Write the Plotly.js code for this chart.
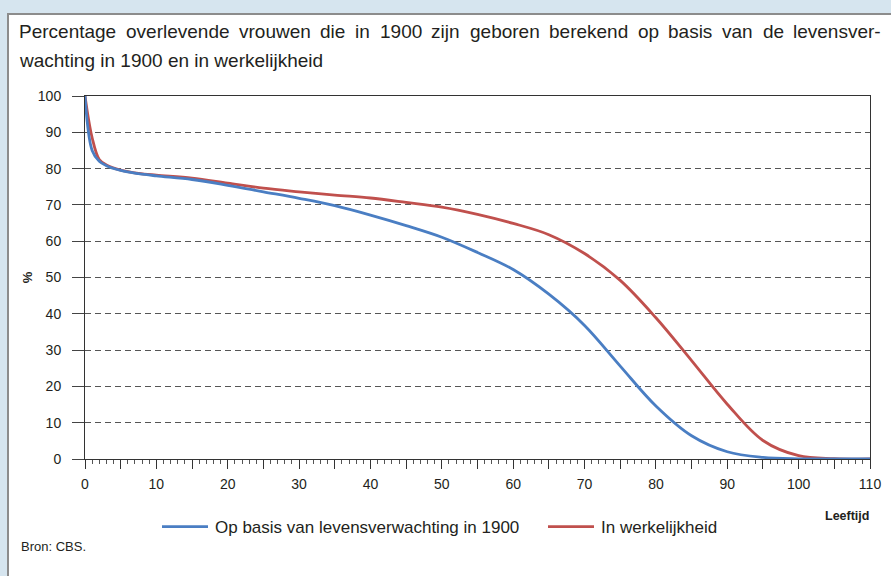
<!DOCTYPE html>
<html>
<head>
<meta charset="utf-8">
<script src="https://cdn.plot.ly/plotly-3.0.1.min.js"></script>
<style>
  html, body { margin: 0; padding: 0; background: #d6e5ef; }
  #chart { width: 891px; height: 576px; }
</style>
</head>
<body>
<div id="chart"></div>
<script>
// Age in years
const ages = [0, 1, 2, 3, 5, 7.5, 10, 15, 20, 25, 30, 35, 40, 45, 50, 55, 60, 65, 70, 75, 80, 85, 90, 95, 100, 105, 110];
// Percentage surviving, based on life expectancy in 1900
const basis1900 = [100, 85, 82, 80.8, 79.5, 78.6, 78.0, 77.0, 75.4, 73.6, 71.8, 69.8, 67.2, 64.3, 61.1, 56.9, 52.2, 45.4, 36.8, 25.6, 14.6, 6.4, 2.0, 0.45, 0.05, 0, 0];
// Percentage surviving, actual
const werkelijk = [100, 88.5, 82.5, 81, 79.6, 78.7, 78.2, 77.4, 76.0, 74.6, 73.6, 72.7, 71.9, 70.7, 69.4, 67.4, 64.9, 61.8, 56.6, 49.2, 38.9, 27.1, 15.1, 5.1, 0.9, 0.1, 0];

const seriesNames = ['Op basis van levensverwachting in 1900', 'In werkelijkheid'];
const xTickVals = [0, 5, 10, 15, 20, 25, 30, 35, 40, 45, 50, 55, 60, 65, 70, 75, 80, 85, 90, 95, 100, 105, 110];
const xTickText = ['0', '', '10', '', '20', '', '30', '', '40', '', '50', '', '60', '', '70', '', '80', '', '90', '', '100', '', '110'];
const yTickVals = [0, 10, 20, 30, 40, 50, 60, 70, 80, 90, 100];

const titleLine1 = 'Percentage overlevende vrouwen die in 1900 zijn geboren berekend op basis van de levensver-';
const titleLine2 = 'wachting in 1900 en in werkelijkheid';

const FONT = 'Liberation Sans, Arial, Helvetica, sans-serif';
const TITLE_SIZE = 19;

const traces = [
  { x: ages, y: werkelijk, name: seriesNames[1], type: 'scatter', mode: 'lines', legend: 'legend2',
    line: { color: '#c0504d', width: 2.8, shape: 'spline', smoothing: 1 } },
  { x: ages, y: basis1900, name: seriesNames[0], type: 'scatter', mode: 'lines', legend: 'legend',
    line: { color: '#4a7ec3', width: 2.8, shape: 'spline', smoothing: 1 } }
];

const L = 85, R = 870, T = 96, B = 459;
const W = R - L, H = B - T;
const px = v => (v - L) / W;
const py = v => (B - v) / H;

// justify the first title line across the panel width (text layout only)
const ctx = document.createElement('canvas').getContext('2d');
ctx.font = TITLE_SIZE + 'px "Liberation Sans"';
const words = titleLine1.split(' ');
const wWidths = words.map(w => ctx.measureText(w).width);
const lineStart = 18, lineEnd = 880;
const gap = (lineEnd - lineStart - wWidths.reduce((a, b) => a + b, 0)) / (words.length - 1);
const titleAnnots = [];
let cur = lineStart;
words.forEach((w, i) => {
  titleAnnots.push({ xref: 'paper', yref: 'paper', x: px(cur), y: py(31), xanchor: 'left', yanchor: 'middle',
    text: w, showarrow: false, borderpad: 0, font: { size: TITLE_SIZE, color: '#231f20' } });
  cur += wWidths[i] + gap;
});
titleAnnots.push({ xref: 'paper', yref: 'paper', x: px(lineStart), y: py(60), xanchor: 'left', yanchor: 'middle',
  text: titleLine2, showarrow: false, borderpad: 0, font: { size: TITLE_SIZE, color: '#231f20' } });

const legendBase = { orientation: 'h', yanchor: 'middle', y: py(527), xanchor: 'left',
  font: { size: 17, color: '#231f20' }, bgcolor: 'rgba(0,0,0,0)', itemwidth: 48 };

const layout = {
  width: 891, height: 576,
  margin: { l: L, r: 891 - R, t: T, b: 576 - B, pad: 0 },
  paper_bgcolor: '#d6e5ef',
  plot_bgcolor: 'rgba(0,0,0,0)',
  font: { family: FONT, size: 14, color: '#231f20' },
  showlegend: true,
  legend: Object.assign({}, legendBase, { x: px(157) }),
  legend2: Object.assign({}, legendBase, { x: px(543) }),
  xaxis: {
    range: [0, 110], tickvals: xTickVals, ticktext: xTickText,
    ticks: 'outside', ticklen: 9, tickcolor: '#333', tickwidth: 1,
    minor: { dtick: 1, ticks: 'outside', ticklen: 4, tickcolor: '#555', tickwidth: 1, showgrid: false },
    showline: true, linecolor: '#333', linewidth: 1, mirror: true,
    showgrid: false, zeroline: false, ticklabelstandoff: 3,
    tickfont: { size: 14, color: '#231f20' },
    fixedrange: true
  },
  yaxis: {
    range: [0, 100], tickvals: yTickVals,
    ticks: 'outside', ticklen: 12, tickcolor: '#444', tickwidth: 1,
    showline: true, linecolor: '#333', linewidth: 1, mirror: true,
    showgrid: true, gridcolor: '#555', gridwidth: 1, griddash: '6px,4px',
    zeroline: false, ticklabelstandoff: 8,
    tickfont: { size: 14, color: '#231f20' },
    title: { text: '<b>%</b>', font: { size: 13 }, standoff: 2 },
    fixedrange: true
  },
  shapes: [
    { type: 'rect', xref: 'paper', yref: 'paper', layer: 'below',
      x0: px(8), x1: px(900), y0: py(14), y1: py(590),
      fillcolor: '#ffffff', line: { color: '#8c8c8c', width: 2 } }
  ],
  annotations: titleAnnots.concat([
    { xref: 'paper', yref: 'paper', x: px(871), y: py(516), xanchor: 'right', yanchor: 'middle',
      text: '<b>Leeftijd</b>', showarrow: false, font: { size: 12.5, color: '#231f20' } },
    { xref: 'paper', yref: 'paper', x: px(19), y: py(546), xanchor: 'left', yanchor: 'middle',
      text: 'Bron: CBS.', showarrow: false, font: { size: 13, color: '#231f20' } }
  ])
};

Plotly.newPlot('chart', traces, layout, { displayModeBar: false, staticPlot: true }).then(() => {
  // lengthen the legend line samples to match the original key
  document.querySelectorAll('.legendlines path').forEach(p => p.setAttribute('d', 'M5,0h46'));
});
</script>
</body>
</html>
